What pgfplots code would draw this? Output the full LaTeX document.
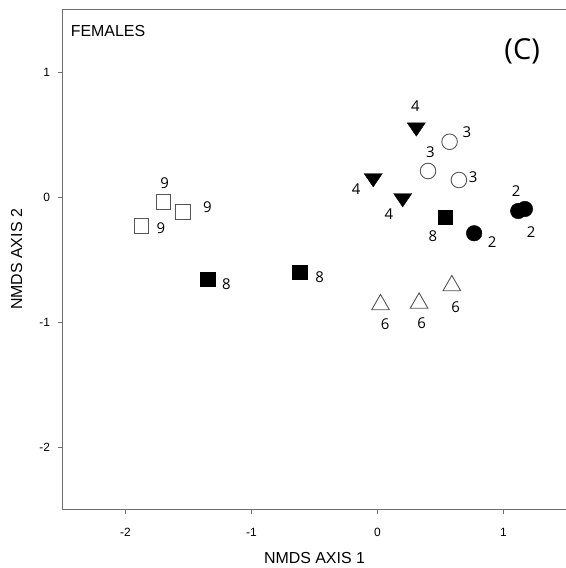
\documentclass[border=0pt]{standalone}
\usepackage{fontspec}
\setmainfont{Liberation Sans}
\newfontfamily\labfont{Open Sans}
\usepackage{pgfplots}
\pgfplotsset{compat=1.18}
\definecolor{axgray}{HTML}{6E6E6E}
\definecolor{mkgray}{HTML}{555555}
\begin{document}
\begin{tikzpicture}
\useasboundingbox (-62.5bp,-58.5bp) rectangle (503.3bp,509.5bp);
\begin{axis}[
  at={(0,0)}, anchor=south west,
  scale only axis, width=504bp, height=500bp,
  xmin=-2.5, xmax=1.5, ymin=-2.5, ymax=1.5,
  xtick={-2,-1,0,1}, ytick={-2,-1,0,1},
  tick align=outside, xtick pos=left, ytick pos=left,
  major tick length=4bp,
  axis line style={axgray, line width=1.2bp},
  every tick/.style={axgray, line width=0.8bp},
  /pgf/number format/assume math mode=true,
  xticklabel style={font=\fontsize{12}{13}\selectfont, yshift=-11bp},
  yticklabel style={font=\fontsize{12}{13}\selectfont, xshift=-5bp},
  xlabel={NMDS AXIS 1}, ylabel={NMDS AXIS 2},
  every axis x label/.style={at={(axis description cs:0.5,-0.097)}, anchor=center, font=\fontsize{16}{18}\selectfont},
  every axis y label/.style={at={(axis description cs:-0.091,0.5)}, anchor=center, rotate=90, font=\fontsize{16}{18}\selectfont},
  clip=false,
]
% group 4: filled down triangles
\addplot[only marks, mark=triangle*, mark size=10.5bp, mark options={fill=black, draw=black, rotate=180, yscale=0.85}]
  coordinates {(0.308,0.558) (-0.034,0.152) (0.200,-0.008)};
% group 3: open circles
\addplot[only marks, mark=o, mark size=7.8bp, mark options={draw=mkgray, line width=0.9bp}]
  coordinates {(0.572,0.442) (0.401,0.208) (0.646,0.136)};
% group 8: filled squares
\addplot[only marks, mark=square*, mark size=7.3bp, mark options={fill=black, draw=black}]
  coordinates {(0.538,-0.162) (-1.346,-0.658) (-0.617,-0.602)};
% group 2: filled circles
\addplot[only marks, mark=*, mark size=7.8bp, mark options={fill=black, draw=black}]
  coordinates {(0.767,-0.290) (1.117,-0.112) (1.170,-0.096)};
% group 9: open squares
\addplot[only marks, mark=square, mark size=7.3bp, mark options={draw=mkgray, line width=0.9bp}]
  coordinates {(-1.700,-0.038) (-1.542,-0.118) (-1.874,-0.230)};
% group 6: open triangles
\addplot[only marks, mark=triangle, mark size=10.2bp, mark options={draw=mkgray, line width=0.9bp}]
  coordinates {(0.024,-0.861) (0.330,-0.849) (0.590,-0.709)};
% point labels
\addplot[draw=none, nodes near coords, point meta=explicit symbolic,
  nodes near coords style={anchor=center, inner sep=0pt, font=\labfont\fontsize{15}{15}\selectfont}]
  table[meta=l] {
x y l
0.30 0.73 4
-0.17 0.06 4
0.09 -0.14 4
0.71 0.52 3
0.42 0.36 3
0.76 0.16 3
1.10 0.05 2
1.22 -0.28 2
0.91 -0.36 2
0.44 -0.31 8
-1.20 -0.70 8
-0.46 -0.64 8
-1.69 0.11 9
-1.35 -0.08 9
-1.72 -0.25 9
0.06 -1.02 6
0.35 -1.01 6
0.62 -0.88 6
};
\node[anchor=base west, inner sep=0pt, font=\fontsize{16}{18}\selectfont] at (axis description cs:0.016,0.945) {FEMALES};
\node[anchor=center, inner sep=0pt, font=\labfont\fontsize{29}{30}\selectfont] at (axis description cs:0.912,0.917) {(C)};
\end{axis}
\end{tikzpicture}
\end{document}
